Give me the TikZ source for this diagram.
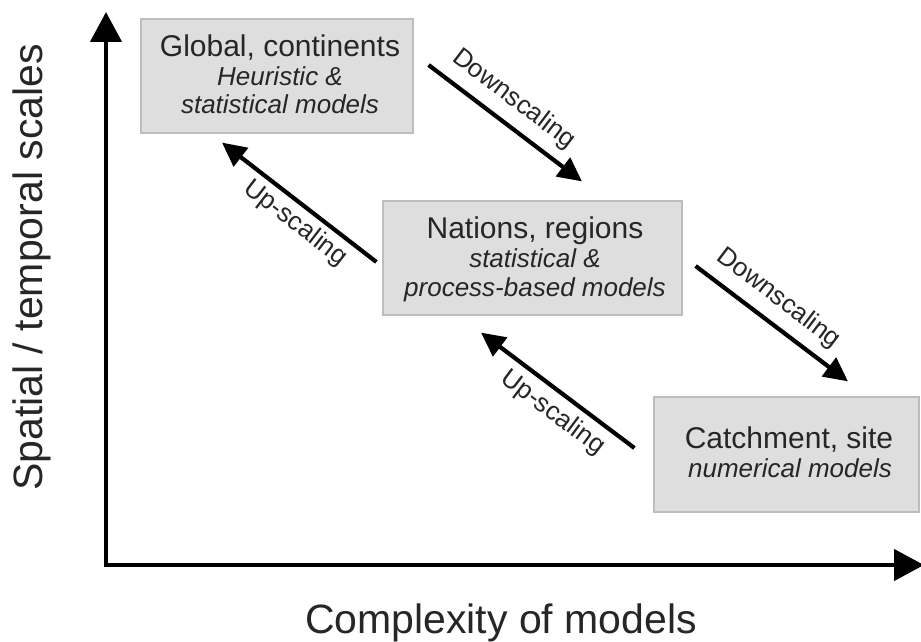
\documentclass[tikz,border=0pt]{standalone}
\usepackage{fontspec}
\setmainfont{Liberation Sans}
\usetikzlibrary{arrows.meta,calc}
\definecolor{boxfill}{HTML}{DEDEDE}
\definecolor{boxline}{HTML}{BDBDBD}
\definecolor{txt}{HTML}{262626}
\tikzset{
  box/.style={draw=boxline, fill=boxfill, line width=1.2pt, inner sep=0pt},
  main/.style={font=\fontsize{30}{36}\selectfont, text=txt, anchor=base, inner sep=0pt},
  sub/.style={font=\fontsize{26}{30}\selectfont\itshape, text=txt, anchor=base, inner sep=0pt},
  arr/.style={line width=4.2pt, -{Triangle[length=24pt,width=23pt]}},
  axis/.style={line width=4.5pt, line join=miter, {Triangle[length=30pt,width=31pt]}-{Triangle[length=30pt,width=31pt]}},
  lab/.style={font=\fontsize{26}{30}\selectfont, text=txt, sloped, inner sep=2pt},
  axlab/.style={font=\fontsize{41}{48}\selectfont, text=txt, inner sep=0pt}
}
\begin{document}
\begin{tikzpicture}[x=1pt,y=-1pt]
\useasboundingbox (0,0) rectangle (921,642);
% axes
\coordinate (ytop) at (106,12);
\coordinate (O) at (106,565);
\coordinate (xend) at (924,565);
\draw[axis] (ytop) -- (O) -- (xend);
\node[axlab, rotate=90, anchor=base] (ylab) at (42.5,267.5) {Spatial / temporal scales};
\node[axlab, anchor=base] (xlab) at (501,633) {Complexity of models};
% boxes
\node[box, minimum width=272pt, minimum height=114pt] (b1) at (277,76) {};
\node[box, minimum width=299pt, minimum height=114pt] (b2) at (532.5,258) {};
\node[box, minimum width=265pt, minimum height=115pt] (b3) at (786.5,454.5) {};
% box texts
\node[main] (b1a) at (280,57) {Global, continents};
\node[sub] (b1b) at (280,85) {Heuristic \&};
\node[sub] (b1c) at (280,113) {statistical models};
\node[main] (b2a) at (535,238) {Nations, regions};
\node[sub] (b2b) at (535,267) {statistical \&};
\node[sub] (b2c) at (535,296) {process-based models};
\node[main] (b3a) at (789,448) {Catchment, site};
\node[sub] (b3b) at (790,477) {numerical models};
% arrows
\draw[arr] ($(b1.east)+(15,-11)$) -- node[lab, pos=0.46, above=8pt] (d1) {Downscaling} ($(b2.north)+(49.5,-19)$);
\draw[arr] ($(b2.west)+(-6,4)$) -- node[lab, pos=0.45, below=3pt] (u1) {Up-scaling} ($(b1.south)+(-55,9)$);
\draw[arr] ($(b2.east)+(13,8)$) -- node[lab, pos=0.45, above=8pt] (d2) {Downscaling} ($(b3.north)+(61.5,-15)$);
\draw[arr] ($(b3.west)+(-19,-6.5)$) -- node[lab, pos=0.45, below=5pt] (u2) {Up-scaling} ($(b2.south)+(-51.5,17)$);
\end{tikzpicture}
\end{document}
